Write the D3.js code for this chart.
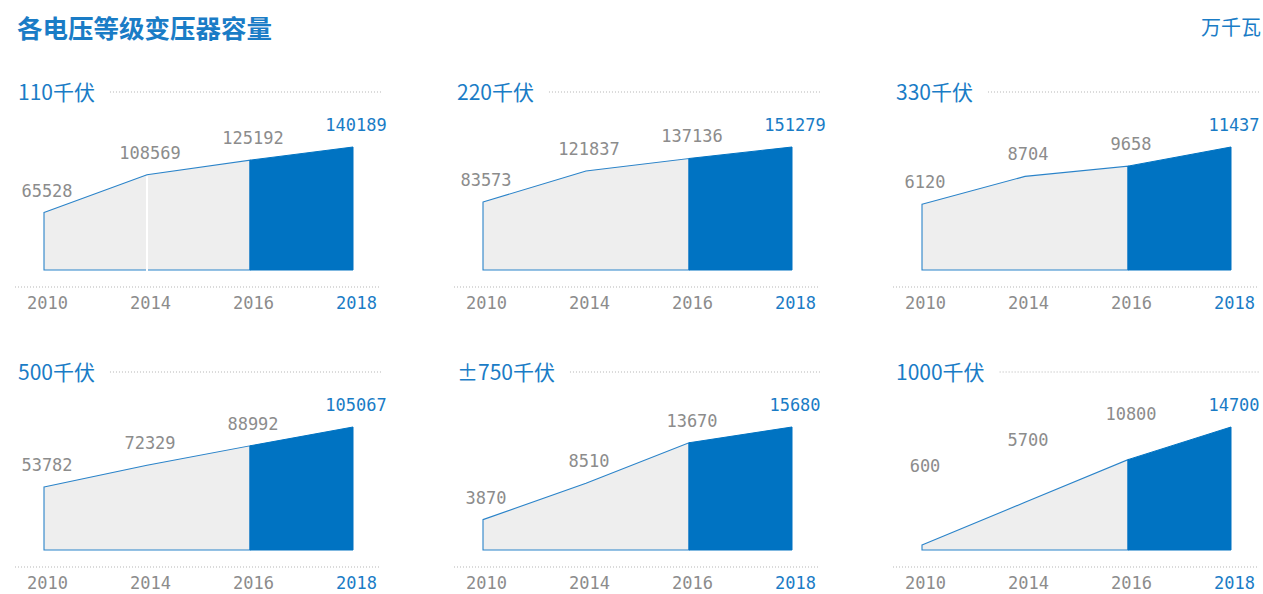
<!DOCTYPE html>
<html><head><meta charset="utf-8">
<script src="https://cdn.jsdelivr.net/npm/d3@7/dist/d3.min.js"></script>
<style>
html,body{margin:0;padding:0;background:#fff;}
svg{display:block;}
</style></head>
<body>
<svg id="chart" width="1263" height="594"></svg>
<script>
// ---- data ----
const chartTitle = "各电压等级变压器容量";
const unitLabel = "万千瓦";
const years = ["2010", "2014", "2016", "2018"];
const panelTitles = ["110千伏", "220千伏", "330千伏", "500千伏", "±750千伏", "1000千伏"];
const values110 = [65528, 108569, 125192, 140189];
const values220 = [83573, 121837, 137136, 151279];
const values330 = [6120, 8704, 9658, 11437];
const values500 = [53782, 72329, 88992, 105067];
const values750 = [3870, 8510, 13670, 15680];
const values1000 = [600, 5700, 10800, 14700];
const seriesValues = [values110, values220, values330, values500, values750, values1000];
const highlightFrom = "2016";

// ---- style ----
const BLUE = "#0073c2";
const TEXTBLUE = "#1a7cc6";
const GREY = "#8c8c8c";
const numFont = "'DejaVu Sans Mono', 'Liberation Mono', monospace";
const cjkFont = "'Noto Sans CJK SC', 'Noto Sans', sans-serif";

const svg = d3.select("#chart");

svg.append("text").attr("x", 17).attr("y", 38)
  .attr("font-family", cjkFont).attr("font-weight", "bold").attr("font-size", 25.5)
  .attr("fill", TEXTBLUE).text(chartTitle);
svg.append("text").attr("x", 1261).attr("y", 35).attr("text-anchor", "end")
  .attr("font-family", cjkFont).attr("font-size", 20)
  .attr("fill", TEXTBLUE).text(unitLabel);

const colX = [15, 454, 893];
const rowTop = [92, 372];
const panelW = 366;
const plotH = 123;

panelTitles.forEach((title, idx) => {
  const col = idx % 3, row = Math.floor(idx / 3);
  const x0 = colX[col];
  const headY = rowTop[row];
  const base = headY + 178;
  const axisY = headY + 195;
  const vals = seriesValues[idx];
  const data = years.map((y, i) => ({year: y, value: vals[i], i}));

  const g = svg.append("g");

  const x = d3.scalePoint().domain(years).range([x0 + 29, x0 + 338]);
  const y = d3.scaleLinear().domain([0, d3.max(vals)]).range([base, base - plotH]);

  // header
  const t = g.append("text").attr("x", x0 + 3).attr("y", headY + 8)
    .attr("font-family", cjkFont).attr("font-size", 21)
    .attr("fill", TEXTBLUE).text(title);
  const tw = t.node().getComputedTextLength();
  g.append("line").attr("x1", x0 + 3 + tw + 15).attr("x2", x0 + panelW).attr("y1", headY).attr("y2", headY)
    .attr("stroke", "#b5b5b5").attr("stroke-width", 1).attr("stroke-dasharray", "1,2");

  const hi = years.indexOf(highlightFrom);
  const past = data.slice(0, hi + 1);
  const future = data.slice(hi);

  const area = d3.area().x(d => x(d.year)).y0(base).y1(d => y(d.value));

  g.append("path").datum(past).attr("d", area(past) + "Z")
    .attr("fill", "#eeeeee").attr("stroke", "#2a83c9").attr("stroke-width", 1.1);
  g.append("path").datum(future).attr("d", area(future))
    .attr("fill", BLUE).attr("stroke", BLUE).attr("stroke-width", 1);

  if (idx === 0) {
    // thin white separator seen in the first panel
    g.append("line").attr("x1", x("2014")).attr("x2", x("2014"))
      .attr("y1", y(vals[1]) + 1.5).attr("y2", base + 1)
      .attr("stroke", "#fff").attr("stroke-width", 2);
  }

  // value labels
  g.selectAll("text.val").data(data).join("text").attr("class", "val")
    .attr("x", d => x(d.year) + 3)
    .attr("y", d => {
      let lift = (base - y(d.value)) + 22;
      if (idx === 5 && d.i < years.length - 1) lift = Math.max(lift, 84 + 26 * d.i);
      return base - lift + 6;
    })
    .attr("text-anchor", "middle")
    .attr("font-family", numFont).attr("font-size", 17)
    .attr("fill", d => d.year === years[years.length - 1] ? TEXTBLUE : GREY)
    .text(d => d.value);

  // bottom axis
  g.append("line").attr("x1", x0).attr("x2", x0 + panelW).attr("y1", axisY).attr("y2", axisY)
    .attr("stroke", "#b5b5b5").attr("stroke-width", 1).attr("stroke-dasharray", "1,2");
  const ax = g.append("g").attr("transform", `translate(3,${axisY})`)
    .call(d3.axisBottom(x).tickSize(0).tickPadding(10));
  ax.select(".domain").remove();
  ax.selectAll("text")
    .attr("font-family", numFont).attr("font-size", 17)
    .attr("fill", d => d === years[years.length - 1] ? TEXTBLUE : GREY);
});
</script>
</body></html>
